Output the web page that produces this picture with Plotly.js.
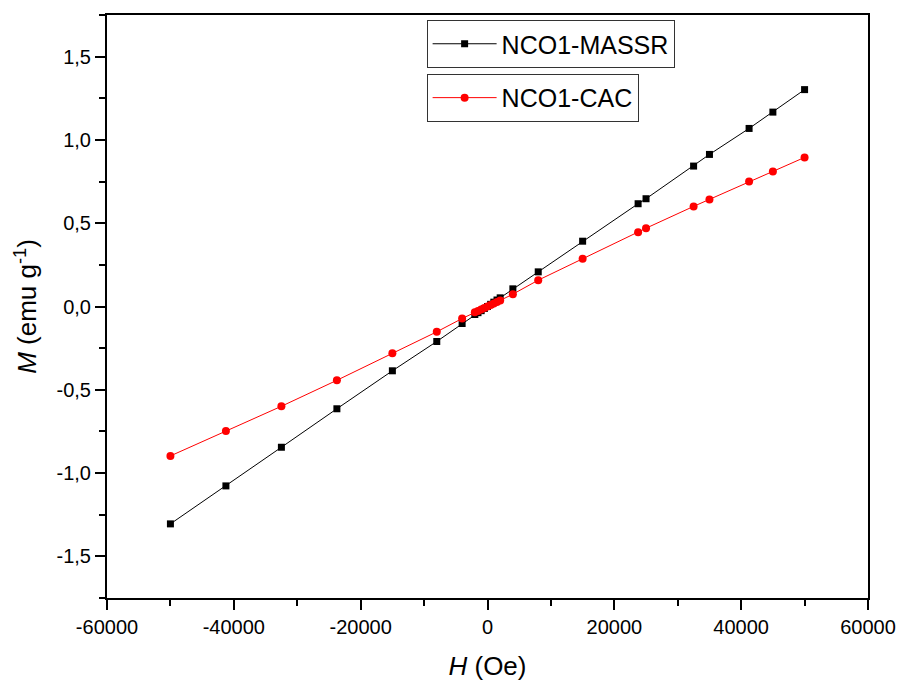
<!DOCTYPE html>
<html>
<head>
<meta charset="utf-8">
<script src="https://cdn.plot.ly/plotly-3.0.1.min.js"></script>
<style>html,body{margin:0;padding:0;background:#fff;}#chart{width:901px;height:682px;}</style>
</head>
<body>
<div id="chart"></div>
<script>
// Field H (Oe)
const fieldMASSR = [-50000, -41250, -32500, -23750, -15000, -8000, -4000, -2000, -1500, -1000, -500, 0, 500, 1000, 1500, 2000, 4000, 8000, 15000, 23750, 25000, 32500, 35000, 41250, 45000, 50000];
const momentMASSR = [-1.305, -1.077, -0.845, -0.614, -0.386, -0.210, -0.102, -0.048, -0.037, -0.025, -0.012, 0.000, 0.013, 0.026, 0.039, 0.052, 0.106, 0.208, 0.392, 0.617, 0.647, 0.843, 0.913, 1.069, 1.167, 1.302];
const fieldCAC = [-50000, -41250, -32500, -23750, -15000, -8000, -4000, -2000, -1500, -1000, -500, 0, 500, 1000, 1500, 2000, 4000, 8000, 15000, 23750, 25000, 32500, 35000, 41250, 45000, 50000];
const momentCAC = [-0.897, -0.747, -0.599, -0.443, -0.280, -0.152, -0.072, -0.034, -0.027, -0.018, -0.009, 0.000, 0.009, 0.018, 0.027, 0.036, 0.074, 0.158, 0.286, 0.446, 0.470, 0.601, 0.643, 0.751, 0.811, 0.895];
const seriesNames = ["NCO1-MASSR", "NCO1-CAC"];
const xTickVals = [-60000, -40000, -20000, 0, 20000, 40000, 60000];
const xTickLabels = ["-60000", "-40000", "-20000", "0", "20000", "40000", "60000"];
const yTickVals = [-1.5, -1.0, -0.5, 0.0, 0.5, 1.0, 1.5];
const yTickLabels = ["-1,5", "-1,0", "-0,5", "0,0", "0,5", "1,0", "1,5"];

const FONT = "Liberation Sans, Arial, sans-serif";

const traces = [
  {
    x: fieldMASSR, y: momentMASSR, name: seriesNames[0], type: "scatter", mode: "lines+markers",
    line: {color: "#000000", width: 1},
    marker: {symbol: "square", size: 7, color: "#000000"},
    legend: "legend"
  },
  {
    x: fieldCAC, y: momentCAC, name: seriesNames[1], type: "scatter", mode: "lines+markers",
    line: {color: "#ff0000", width: 1},
    marker: {symbol: "circle", size: 8, color: "#ff0000"},
    legend: "legend2"
  }
];

const axisCommon = {
  showgrid: false, zeroline: false, showline: true, linecolor: "#000", linewidth: 2,
  mirror: true, ticks: "outside", ticklen: 10, tickwidth: 2, tickcolor: "#000",
  tickfont: {family: FONT, size: 20, color: "#000"}
};

const legendCommon = {
  xref: "paper", yref: "paper", xanchor: "left", yanchor: "top",
  bgcolor: "#fff", bordercolor: "#333", borderwidth: 1,
  font: {family: FONT, size: 25, color: "#000"},
  itemwidth: 64, tracegroupgap: 0
};

const layout = {
  width: 901, height: 682,
  margin: {l: 107, r: 33, t: 15, b: 84},
  paper_bgcolor: "#fff", plot_bgcolor: "#fff",
  showlegend: true,
  xaxis: Object.assign({}, axisCommon, {
    range: [-60000, 60000], tickmode: "array", tickvals: xTickVals, ticktext: xTickLabels,
    minor: {dtick: 10000, ticks: "outside", ticklen: 6, tickwidth: 2, tickcolor: "#000", showgrid: false},
    title: {text: "<i>H</i> (Oe)", font: {family: FONT, size: 26, color: "#000"}, standoff: 20}
  }),
  yaxis: Object.assign({}, axisCommon, {
    range: [-1.75, 1.75], tickmode: "array", tickvals: yTickVals, ticktext: yTickLabels,
    minor: {dtick: 0.25, ticks: "outside", ticklen: 6, tickwidth: 2, tickcolor: "#000", showgrid: false},
    title: {text: "<i>M</i> (emu g<sup>-1</sup>)", font: {family: FONT, size: 26, color: "#000"}, standoff: 12}
  }),
  legend: Object.assign({}, legendCommon, {x: 0.42, y: 0.9914}),
  legend2: Object.assign({}, legendCommon, {x: 0.42, y: 0.8990})
};

Plotly.newPlot("chart", traces, layout, {displayModeBar: false, staticPlot: true});
</script>
</body>
</html>
